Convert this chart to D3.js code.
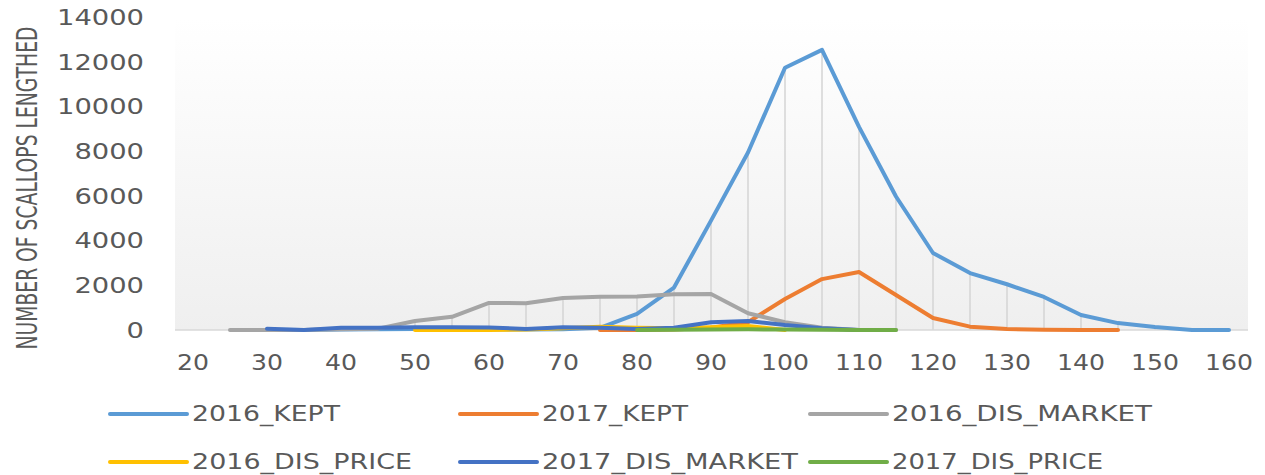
<!DOCTYPE html>
<html>
<head>
<meta charset="utf-8">
<script src="https://cdn.jsdelivr.net/npm/d3@7"></script>
<style>
  html, body { margin: 0; padding: 0; background: #ffffff; }
  svg { display: block; }
  text { font-family: "DejaVu Sans", sans-serif; fill: #595959; }
</style>
</head>
<body>
<svg id="chart" width="1265" height="475"></svg>
<script>
// Shell length categories (mm)
const lengths = [25, 30, 35, 40, 45, 50, 55, 60, 65, 70, 75, 80, 85, 90, 95, 100, 105, 110, 115, 120, 125, 130, 135, 140, 145, 150, 155, 160];

// Series values (null = no value at that length)
const kept2016 = [null, 10, 0, 20, 30, 40, 30, 30, 20, 30, 100, 720, 1900, 4900, 7950, 11750, 12550, 9100, 5980, 3450, 2550, 2050, 1480, 670, 310, 130, 0, 0];
const kept2017 = [null, null, null, null, null, null, null, null, null, null, 0, 0, 20, 100, 350, 1390, 2280, 2600, 1570, 540, 150, 40, 10, 0, 0, null, null, null];
const disMarket2016 = [0, 0, 0, 30, 60, 400, 590, 1210, 1200, 1430, 1490, 1500, 1600, 1610, 750, 350, 100, 0, 0, null, null, null, null, null, null, null, null, null];
const disPrice2016 = [null, null, null, null, null, 0, 0, 0, 20, 80, 150, 100, 80, 120, 180, 0, null, null, null, null, null, null, null, null, null, null, null, null];
const disMarket2017 = [null, 60, 0, 100, 100, 120, 120, 110, 50, 120, 100, 50, 100, 350, 400, 220, 80, 0, null, null, null, null, null, null, null, null, null, null];
const disPrice2017 = [null, null, null, null, null, null, null, null, null, null, null, 0, 10, 20, 30, 20, 10, 0, 0, null, null, null, null, null, null, null, null, null];

const seriesNames = ["2016_KEPT", "2017_KEPT", "2016_DIS_MARKET", "2016_DIS_PRICE", "2017_DIS_MARKET", "2017_DIS_PRICE"];
const seriesValues = [kept2016, kept2017, disMarket2016, disPrice2016, disMarket2017, disPrice2017];
const seriesColors = ["#5B9BD5", "#ED7D31", "#A5A5A5", "#FFC000", "#4472C4", "#70AD47"];

const xTicks = [20, 30, 40, 50, 60, 70, 80, 90, 100, 110, 120, 130, 140, 150, 160];
const yTicks = [0, 2000, 4000, 6000, 8000, 10000, 12000, 14000];
const yTitle = "NUMBER OF SCALLOPS LENGTHED";

const svg = d3.select("#chart");

const x = d3.scaleLinear().domain([20, 160]).range([193, 1229]);
const y = d3.scaleLinear().domain([0, 14000]).range([330, 17.5]);

// plot area background gradient
const defs = svg.append("defs");
const grad = defs.append("linearGradient").attr("id", "bg").attr("x1", 0).attr("y1", 0).attr("x2", 0).attr("y2", 1);
grad.append("stop").attr("offset", "0%").attr("stop-color", "#ffffff");
grad.append("stop").attr("offset", "100%").attr("stop-color", "#efefef");

svg.append("rect")
  .attr("x", 175).attr("y", y(14000))
  .attr("width", 1248 - 175).attr("height", y(0) - y(14000))
  .attr("fill", "url(#bg)");

// drop lines from the highest point to the axis
const dropData = lengths.map((L, i) => {
  const vals = seriesValues.map(s => s[i]).filter(v => v !== null);
  return { L, max: d3.max(vals) };
});
svg.append("g").selectAll("line").data(dropData).join("line")
  .attr("x1", d => x(d.L)).attr("x2", d => x(d.L))
  .attr("y1", d => y(d.max)).attr("y2", y(0))
  .attr("stroke", "#d4d4d4").attr("stroke-width", 1.5);

// baseline
svg.append("line")
  .attr("x1", 175).attr("x2", 1248).attr("y1", y(0)).attr("y2", y(0))
  .attr("stroke", "#d9d9d9").attr("stroke-width", 1.5);

// series lines
const line = d3.line()
  .defined(d => d.v !== null)
  .x(d => x(d.L)).y(d => y(d.v));

seriesValues.forEach((vals, k) => {
  const pts = lengths.map((L, i) => ({ L, v: vals[i] }));
  svg.append("path")
    .datum(pts)
    .attr("d", line)
    .attr("fill", "none")
    .attr("stroke", seriesColors[k])
    .attr("stroke-width", 4)
    .attr("stroke-linejoin", "round")
    .attr("stroke-linecap", "round");
});

// y tick labels
svg.append("g").selectAll("text").data(yTicks).join("text")
  .attr("x", 144).attr("y", d => y(d))
  .attr("text-anchor", "end")
  .attr("dominant-baseline", "central")
  .attr("font-size", 22)
  .attr("textLength", d => String(d).length * 17.4)
  .attr("lengthAdjust", "spacingAndGlyphs")
  .text(d => d);

// x tick labels
svg.append("g").selectAll("text").data(xTicks).join("text")
  .attr("x", d => x(d)).attr("y", 362)
  .attr("text-anchor", "middle")
  .attr("dominant-baseline", "central")
  .attr("font-size", 22)
  .attr("textLength", d => String(d).length * 16)
  .attr("lengthAdjust", "spacingAndGlyphs")
  .text(d => d);

// y axis title (compressed along its length to fit)
const title = svg.append("text")
  .attr("text-anchor", "middle")
  .attr("dominant-baseline", "central")
  .attr("font-size", 29)
  .text(yTitle);
const natural = title.node().getComputedTextLength();
const sx = 323 / natural;
title.attr("transform", `translate(27,188) rotate(-90) scale(${sx},1)`);

// legend
const legendX = [110, 460, 810];
const legendY = [414, 462];
const legendTextW = [148, 146, 260, 220, 256, 211];
const lg = svg.append("g");
seriesNames.forEach((name, k) => {
  const col = k % 3, row = Math.floor(k / 3);
  const lx = legendX[col], ly = legendY[row];
  lg.append("line")
    .attr("x1", lx).attr("x2", lx + 77).attr("y1", ly).attr("y2", ly)
    .attr("stroke", seriesColors[k]).attr("stroke-width", 4).attr("stroke-linecap", "round");
  lg.append("text")
    .attr("x", lx + 82).attr("y", ly)
    .attr("dominant-baseline", "central")
    .attr("font-size", 21)
    .attr("textLength", legendTextW[k])
    .attr("lengthAdjust", "spacingAndGlyphs")
    .text(name);
});
</script>
</body>
</html>
